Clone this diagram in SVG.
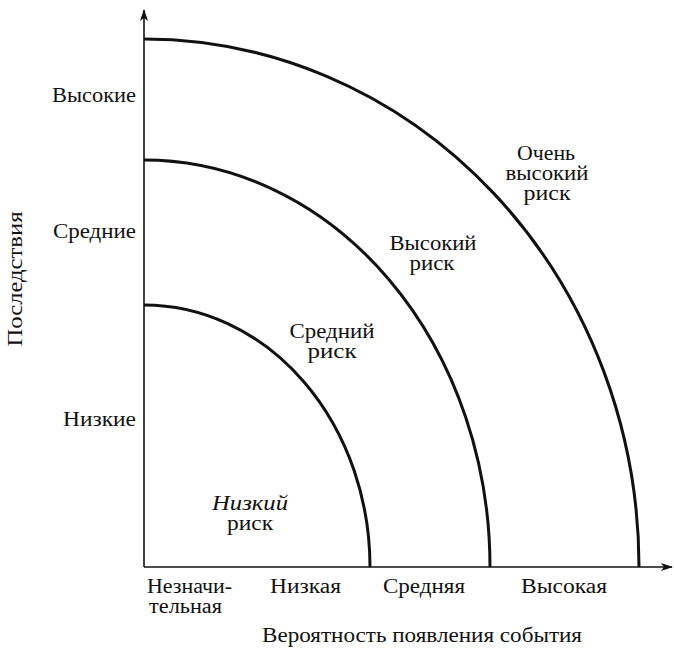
<svg xmlns="http://www.w3.org/2000/svg" width="674" height="648" viewBox="0 0 674 648">
<style>
text{font-family:"Liberation Serif","DejaVu Serif",serif;font-size:20px;fill:#111}
.arc{fill:none;stroke:#111;stroke-width:3}
.axis{fill:none;stroke:#111;stroke-width:1.6}
.m{text-anchor:middle}
.r{text-anchor:end}
</style>
<defs>
<marker id="ah" markerWidth="12" markerHeight="8" refX="11" refY="4" orient="auto" markerUnits="userSpaceOnUse">
<path d="M0,0 L12,4 L0,8 L3,4 Z" fill="#111"/>
</marker>
</defs>
<g id="connectors">
<path class="axis" d="M144,567 L144,10" marker-end="url(#ah)"/>
<path class="axis" d="M144,567 L672,567" marker-end="url(#ah)"/>
<path class="arc" d="M144,305 A226,262 0 0 1 370,567"/>
<path class="arc" d="M144,160 A346,407 0 0 1 490,567"/>
<path class="arc" d="M144,39 A495,528 0 0 1 639,567"/>
</g>
<g id="y-labels">
<text class="r" x="136" y="102" textLength="84" lengthAdjust="spacingAndGlyphs">Высокие</text>
<text class="r" x="136" y="238" textLength="83" lengthAdjust="spacingAndGlyphs">Средние</text>
<text class="r" x="136" y="426" textLength="73" lengthAdjust="spacingAndGlyphs">Низкие</text>
<text class="m" transform="translate(22,279) rotate(-90)" textLength="135" lengthAdjust="spacingAndGlyphs">Последствия</text>
</g>
<g id="zone-very-high">
<text class="m" x="546" y="160" textLength="58" lengthAdjust="spacingAndGlyphs">Очень</text>
<text class="m" x="547" y="180" textLength="83" lengthAdjust="spacingAndGlyphs">высокий</text>
<text class="m" x="547" y="200" textLength="47" lengthAdjust="spacingAndGlyphs">риск</text>
</g>
<g id="zone-high">
<text class="m" x="433" y="250" textLength="87" lengthAdjust="spacingAndGlyphs">Высокий</text>
<text class="m" x="432" y="270" textLength="45" lengthAdjust="spacingAndGlyphs">риск</text>
</g>
<g id="zone-medium">
<text class="m" x="332" y="338" textLength="85" lengthAdjust="spacingAndGlyphs">Средний</text>
<text class="m" x="332" y="358" textLength="49" lengthAdjust="spacingAndGlyphs">риск</text>
</g>
<g id="zone-low">
<text class="m" x="250" y="510" font-style="italic" textLength="76" lengthAdjust="spacingAndGlyphs">Низкий</text>
<text class="m" x="250" y="530" textLength="46" lengthAdjust="spacingAndGlyphs">риск</text>
</g>
<g id="x-labels">
<text x="147" y="593" textLength="85" lengthAdjust="spacingAndGlyphs">Незначи-</text>
<text x="149" y="613" textLength="73" lengthAdjust="spacingAndGlyphs">тельная</text>
<text x="270" y="593" textLength="71" lengthAdjust="spacingAndGlyphs">Низкая</text>
<text x="383" y="593" textLength="82" lengthAdjust="spacingAndGlyphs">Средняя</text>
<text x="521" y="593" textLength="86" lengthAdjust="spacingAndGlyphs">Высокая</text>
<text class="m" x="422" y="642" textLength="320" lengthAdjust="spacingAndGlyphs">Вероятность появления события</text>
</g>
</svg>
